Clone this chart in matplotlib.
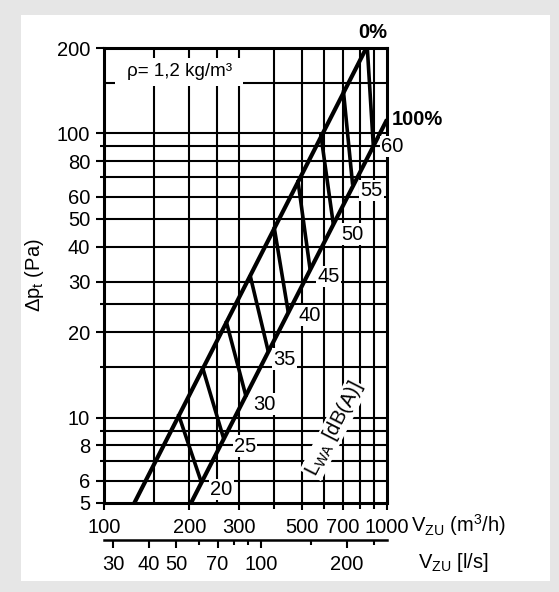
import matplotlib
matplotlib.use('Agg')
import matplotlib.pyplot as plt
from matplotlib.patches import Rectangle
from matplotlib.ticker import NullFormatter

plt.rcParams['font.family'] = ['Liberation Sans', 'DejaVu Sans']
plt.rcParams['mathtext.fontset'] = 'custom'
plt.rcParams['mathtext.rm'] = 'Liberation Sans'
plt.rcParams['mathtext.it'] = 'Liberation Sans:italic'
plt.rcParams['mathtext.bf'] = 'Liberation Sans:bold'

# ---------------- data ----------------
flow_ticks = [100, 200, 300, 500, 700, 1000]
flow_tick_labels = ['100', '200', '300', '500', '700', '1000']
flow_minor = [400, 600, 800, 900]
flow_grid = [150, 200, 250, 300, 400, 500, 600, 700, 800, 900]

dp_ticks = [5, 6, 8, 10, 20, 30, 40, 50, 60, 80, 100, 200]
dp_tick_labels = ['5', '6', '8', '10', '20', '30', '40', '50', '60', '80', '100', '200']
dp_minor = [7, 9, 15, 25, 70, 90]
dp_grid = [6, 7, 8, 9, 10, 15, 20, 25, 30, 40, 50, 60, 70, 80, 90, 100, 150]

ls_ticks = [30, 40, 50, 70, 100, 200]
ls_tick_labels = ['30', '40', '50', '70', '100', '200']
ls_minor = [60, 80, 90, 150, 250]

# damper position lines (0 % = closed, 100 % = open)
closed_V = [128, 845]
closed_dp = [5, 200]
open_V = [203, 1000]
open_dp = [5, 112]

# sound power level iso-lines L_WA [dB(A)]
lwa_levels = [20, 25, 30, 35, 40, 45, 50, 55, 60]
lwa_top_V = [183, 223, 270, 328, 399, 484, 583, 701, 852]
lwa_top_dp = [10.3, 15.0, 21.9, 31.8, 47.0, 68.6, 100, 142, 200]
lwa_bot_V = [221, 265, 318, 381, 448, 535, 646, 756, 895]
lwa_bot_dp = [5.9, 8.4, 11.8, 17.0, 23.4, 33.2, 48, 66, 90]

# ---------------- figure ----------------
W, H = 559, 592
fig = plt.figure(figsize=(W / 100, H / 100), dpi=100, facecolor='#e6e6e6')
fig.add_artist(Rectangle((21 / W, (H - 581) / H), (550 - 21) / W, (581 - 15) / H,
                         transform=fig.transFigure, fc='white', ec='none', zorder=0))

ax = fig.add_axes([104 / W, (H - 503) / H, 283 / W, 455 / H])
ax.set_facecolor('white')
ax.set_xscale('log')
ax.set_yscale('log')
ax.set_xlim(100, 1000)
ax.set_ylim(5, 200)

FS = 14.5
# grid
for v in flow_grid:
    ax.axvline(v, color='black', lw=1.5, zorder=1)
for p in dp_grid:
    ax.axhline(p, color='black', lw=1.5, zorder=1)

for s in ax.spines.values():
    s.set_linewidth(2.2)
    s.set_zorder(5)

ax.set_xticks(flow_ticks)
ax.set_xticklabels(flow_tick_labels)
ax.set_xticks(flow_minor, minor=True)
ax.xaxis.set_minor_formatter(NullFormatter())
ax.set_yticks(dp_ticks)
ax.set_yticklabels(dp_tick_labels)
ax.set_yticks(dp_minor, minor=True)
ax.yaxis.set_minor_formatter(NullFormatter())
ax.tick_params(which='major', direction='out', length=5, width=1.5, labelsize=FS, pad=5.5, color='black')
ax.tick_params(which='minor', direction='out', length=4, width=1.5)
ax.tick_params(axis='y', which='major', length=6, pad=4)
ax.tick_params(axis='y', which='minor', length=3)

# secondary axis l/s
sec = ax.secondary_xaxis((503 - 540) / 455, functions=(lambda x: x / 3.6, lambda x: x * 3.6))
sec.set_xticks(ls_ticks)
sec.set_xticklabels(ls_tick_labels)
sec.set_xticks(ls_minor, minor=True)
sec.xaxis.set_minor_formatter(NullFormatter())
sec.tick_params(which='major', direction='out', length=6, width=1.5, labelsize=FS, pad=4.5)
sec.tick_params(which='minor', direction='out', length=3.5, width=1.5)
sec.spines['bottom'].set_linewidth(1.8)

# rho box
ax.add_patch(Rectangle((11 / 283, (503 - 86) / 455), 128 / 283, 28 / 455,
                       transform=ax.transAxes, fc='white', ec='none', zorder=2))
ax.text(76 / 283, (503 - 72) / 455, 'ρ= 1,2 kg/m³', transform=ax.transAxes,
        ha='center', va='center', fontsize=13.5, zorder=3)

# main lines
ax.plot(closed_V, closed_dp, color='black', lw=3.0, zorder=4, solid_capstyle='butt')
ax.plot(open_V, open_dp, color='black', lw=3.0, zorder=4, solid_capstyle='butt')
for tv, tp, bv, bp in zip(lwa_top_V, lwa_top_dp, lwa_bot_V, lwa_bot_dp):
    ax.plot([tv, bv], [tp, bp], color='black', lw=2.6, zorder=4, solid_capstyle='butt')

label_offsets = [(9, -7), (10, -7), (7, -7), (5, -7), (10, -3), (7, -7), (8, -10), (8, -6), (8, 0)]
for lvl, bv, bp, off in zip(lwa_levels, lwa_bot_V, lwa_bot_dp, label_offsets):
    ax.annotate(str(lvl), xy=(bv, bp), xytext=off, textcoords='offset pixels',
                ha='left', va='center', fontsize=FS, zorder=6, annotation_clip=False,
                bbox=dict(fc='white', ec='none', pad=0.8))

ax.annotate('0%', xy=(closed_V[-1], closed_dp[-1]), xytext=(6, 16), textcoords='offset pixels',
            ha='center', va='center', fontsize=FS, fontweight='bold', annotation_clip=False)
ax.annotate('100%', xy=(open_V[-1], open_dp[-1]), xytext=(5, 0), textcoords='offset pixels',
            ha='left', va='center', fontsize=FS, fontweight='bold', annotation_clip=False)

ax.text((334 - 104) / 283, (503 - 429) / 455, r'L$_{\mathrm{WA}}$ [dB(A)]', transform=ax.transAxes,
        rotation=63, rotation_mode='anchor', ha='center', va='center', fontsize=FS, zorder=6,
        bbox=dict(fc='white', ec='none', pad=0.5))

# axis labels
ax.text((35 - 104) / 283, (503 - 275) / 455, r'Δp$_{\mathrm{t}}$ (Pa)', transform=ax.transAxes,
        rotation=90, ha='center', va='center', fontsize=FS)
ax.text((411 - 104) / 283, (503 - 525) / 455, r'V$_{\mathrm{ZU}}$ (m$^{3}$/h)', transform=ax.transAxes,
        ha='left', va='center', fontsize=FS)
ax.text((418 - 104) / 283, (503 - 563) / 455, r'V$_{\mathrm{ZU}}$ [l/s]', transform=ax.transAxes,
        ha='left', va='center', fontsize=FS)

fig.savefig('out.png', dpi=100, facecolor=fig.get_facecolor())
